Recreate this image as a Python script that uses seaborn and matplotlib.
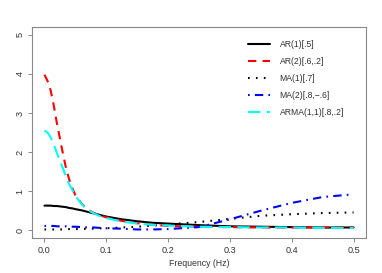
import matplotlib
matplotlib.use("Agg")
import matplotlib.pyplot as plt
import seaborn as sns

sns.set_style("ticks")
plt.rcParams["font.family"] = ["Liberation Sans", "DejaVu Sans"]

# values
freq = [0, .005, .01, .015, .02, .025, .03, .035, .04, .045, .05, .06, .07,
        .08, .09, .10, .125, .15, .175, .20, .25, .30, .35, .40, .45, .50]

ar1 = [0.63, 0.63, 0.63, 0.62, 0.62, 0.61, 0.60, 0.59, 0.57, 0.56, 0.54, 0.51,
       0.47, 0.43, 0.39, 0.35, 0.28, 0.23, 0.19, 0.17, 0.13, 0.10, 0.09, 0.08,
       0.07, 0.07]
ar2 = [3.98, 3.82, 3.58, 3.20, 2.75, 2.35, 1.95, 1.58, 1.30, 1.08, 0.90, 0.68,
       0.53, 0.44, 0.38, 0.33, 0.24, 0.18, 0.14, 0.11, 0.09, 0.08, 0.07, 0.07,
       0.07, 0.08]
ma1 = [0.02, 0.02, 0.02, 0.02, 0.02, 0.02, 0.02, 0.03, 0.03, 0.03, 0.03, 0.03,
       0.04, 0.04, 0.05, 0.05, 0.07, 0.09, 0.12, 0.15, 0.21, 0.29, 0.37, 0.41,
       0.44, 0.455]
ma2 = [0.11, 0.11, 0.11, 0.11, 0.10, 0.10, 0.10, 0.10, 0.09, 0.09, 0.09, 0.08,
       0.07, 0.07, 0.06, 0.05, 0.04, 0.02, 0.02, 0.03, 0.08, 0.28, 0.50, 0.70,
       0.85, 0.92]
arma = [2.55, 2.50, 2.38, 2.20, 1.98, 1.78, 1.58, 1.36, 1.18, 1.03, 0.88, 0.67,
        0.52, 0.43, 0.36, 0.31, 0.22, 0.17, 0.14, 0.12, 0.09, 0.08, 0.07, 0.07,
        0.06, 0.06]

labels = ["AR(1)[.5]", "AR(2)[.6,.2]", "MA(1)[.7]", "MA(2)[.8,\u2212.6]",
          "ARMA(1,1)[.8,.2]"]
x_ticks = [0.0, 0.1, 0.2, 0.3, 0.4, 0.5]
y_ticks = [0, 1, 2, 3, 4, 5]

series = [ar1, ar2, ma1, ma2, arma]
colors = ["black", "#FF0000", "black", "#0000FF", "#00FFFF"]
styles = ["-", (0, (4, 3)), (0, (0.8, 3)), (0, (0.8, 2.5, 4, 2.5)), (0, (6, 3))]

fig = plt.figure(figsize=(3.82, 2.73), dpi=100)
ax = fig.add_axes([0.084, 0.128, 0.874, 0.773])

for y, c, ls, lab in zip(series, colors, styles, labels):
    sns.lineplot(x=freq, y=y, ax=ax, color=c, linestyle=ls, linewidth=1.5,
                 label=lab)

ax.set_xlim(-0.02, 0.52)
ax.set_ylim(-0.2, 5.2)
ax.set_xticks(x_ticks)
ax.set_xticklabels([f"{t:.1f}" for t in x_ticks])
ax.set_yticks(y_ticks)
ax.set_yticklabels([str(t) for t in y_ticks], rotation=90, va="center")
ax.tick_params(labelsize=6.6, colors="#333333", length=3, width=0.6,
               color="#777777", pad=2.5)
ax.set_xlabel("Frequency (Hz)", fontsize=6.3, color="#333333", labelpad=3)
ax.set_ylabel("")
for sp in ax.spines.values():
    sp.set_visible(True)
    sp.set_color("#888888")
    sp.set_linewidth(0.8)

leg = ax.legend(loc="upper left", bbox_to_anchor=(0.647, 0.94), frameon=False,
                fontsize=6.2, handlelength=2.6, handletextpad=1.05,
                labelspacing=0.95, borderaxespad=0, borderpad=0)
for t in leg.get_texts():
    t.set_color("#333333")

fig.savefig("out.png", dpi=100)
